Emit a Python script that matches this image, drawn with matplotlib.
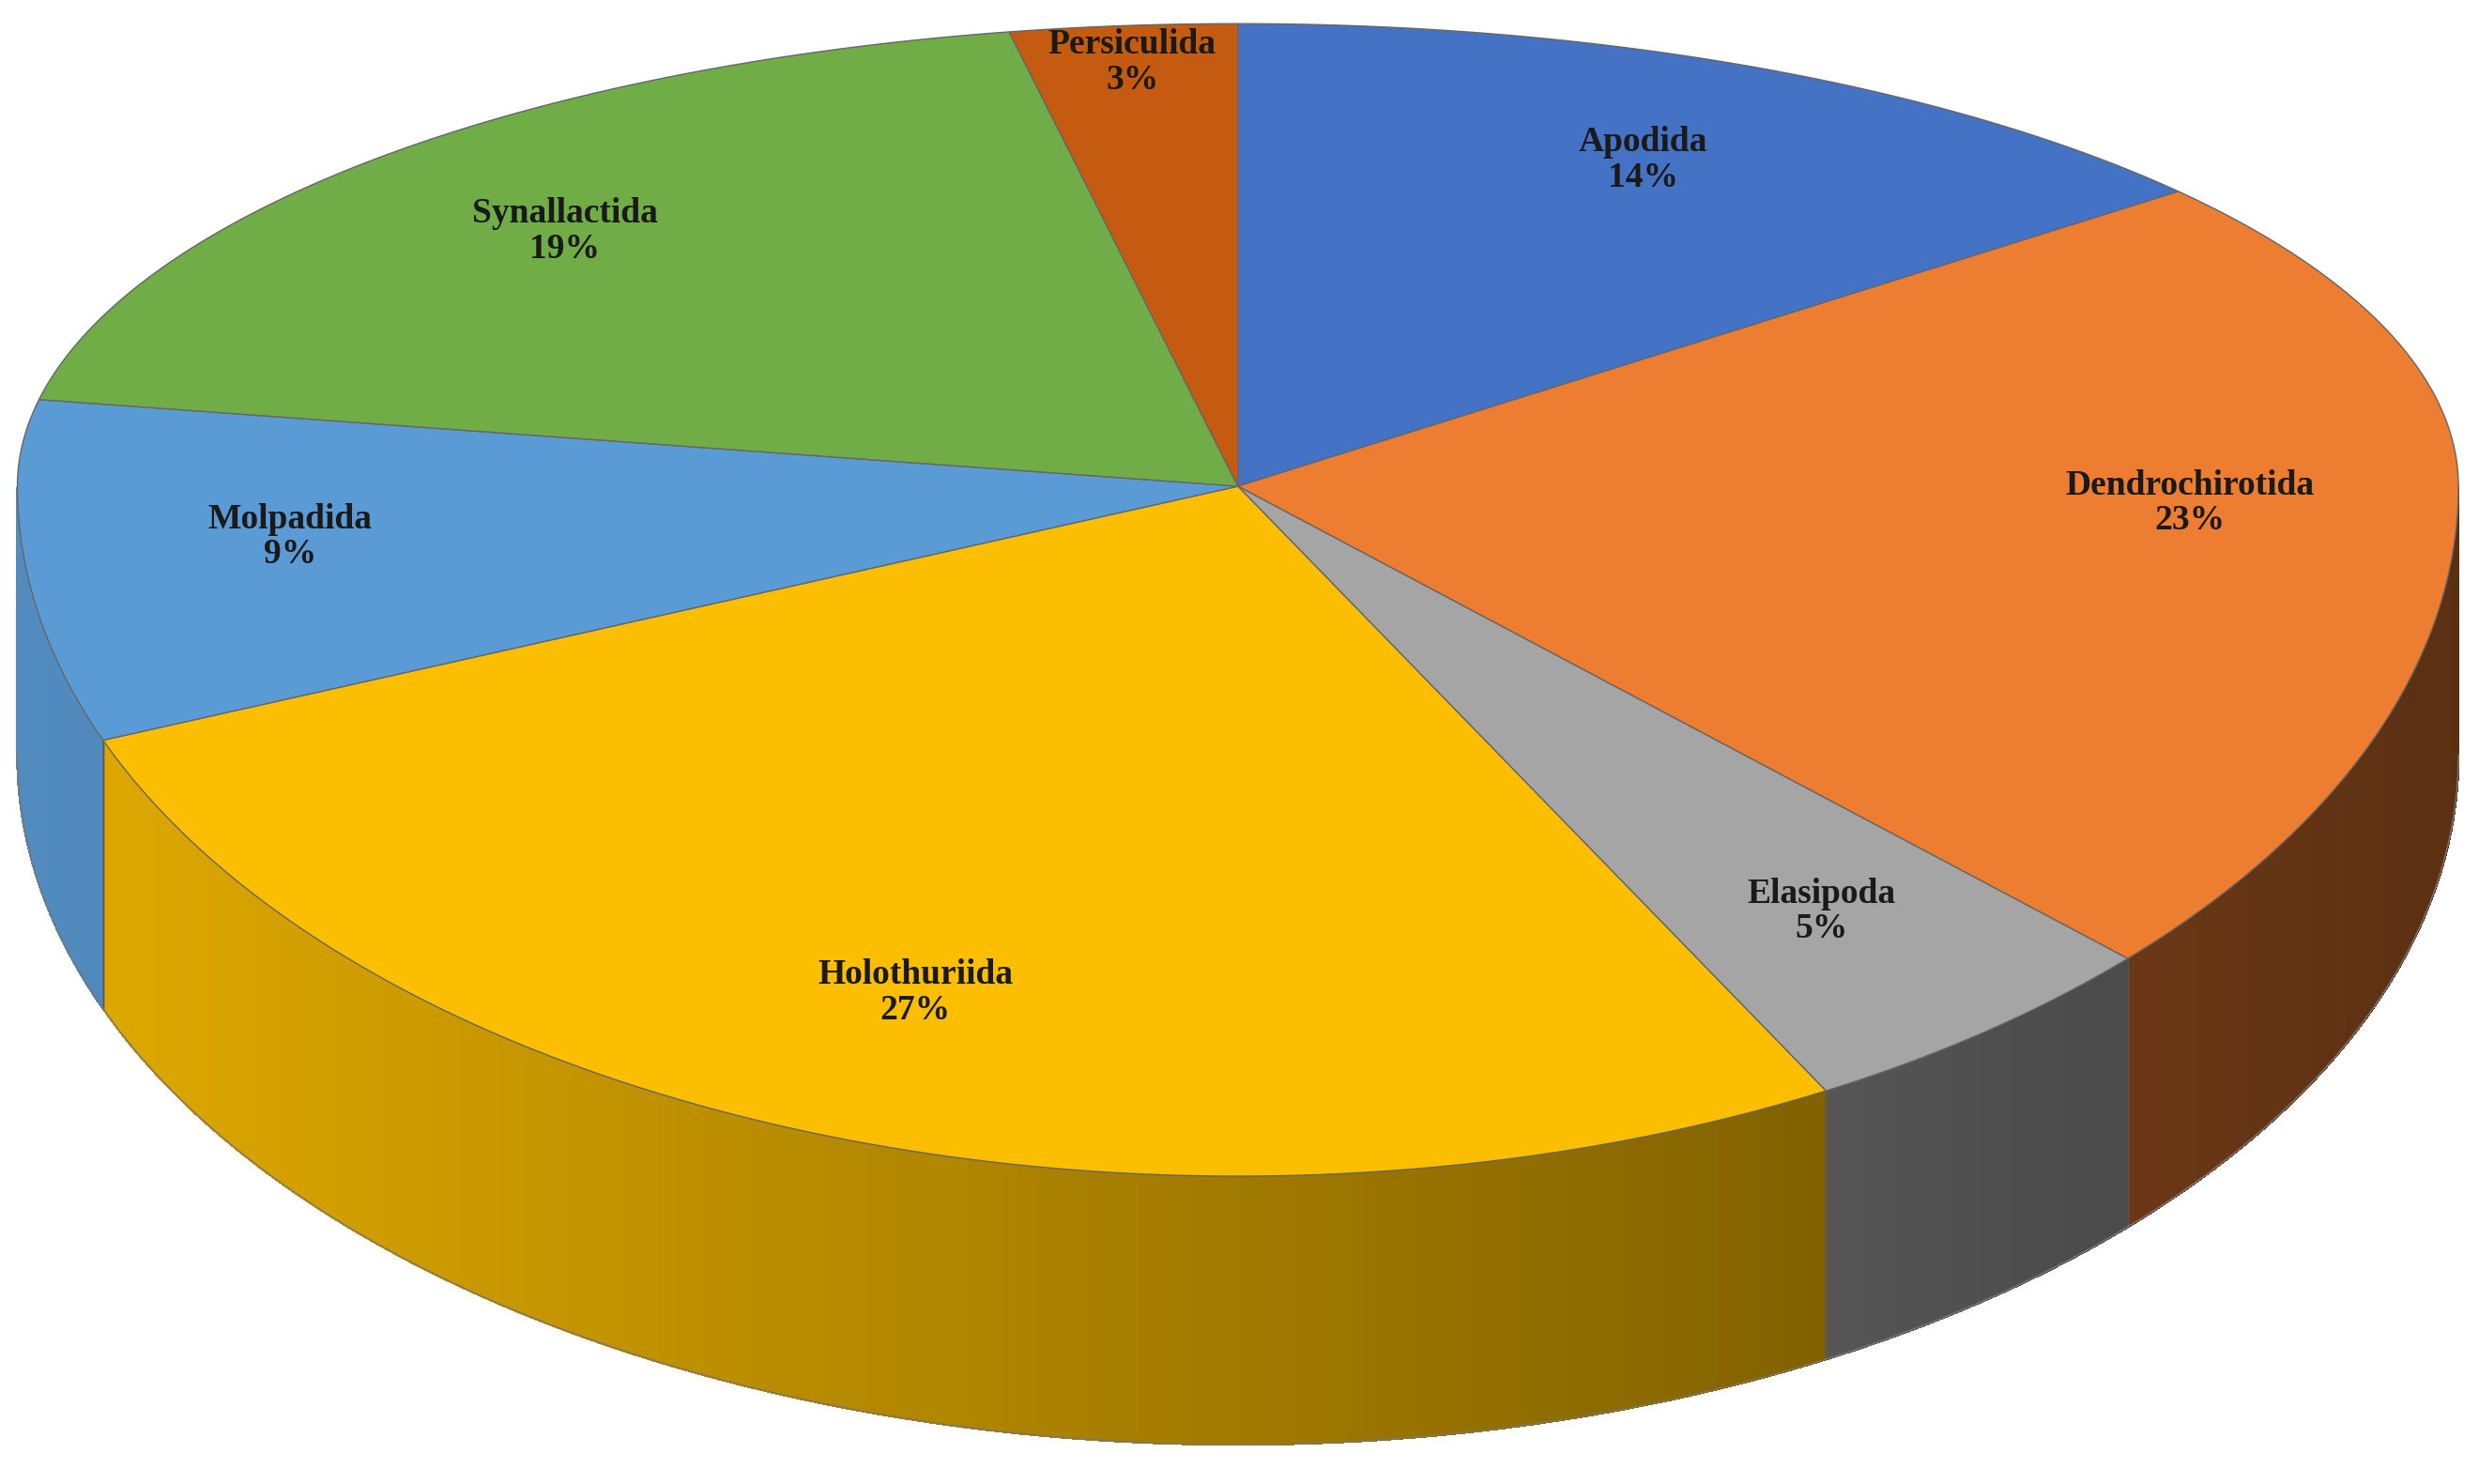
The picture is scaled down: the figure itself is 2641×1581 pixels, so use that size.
import numpy as np
import matplotlib.pyplot as plt
from matplotlib.colors import to_rgb

labels = ["Apodida", "Dendrochirotida", "Elasipoda", "Holothuriida",
          "Molpadida", "Synallactida", "Persiculida"]
values = [14, 23, 5, 27, 9, 19, 3]
colors = ["#4472C4", "#ED7D31", "#A5A5A5", "#FBBE00",
          "#5B9BD5", "#70AD47", "#C55A11"]

# geometry in reference pixel units (1568 x 940 canvas)
cx, cy = 783, 308
rx, ry_up, ry_down = 772, 293, 437
depth = 170


def pt(theta, r=1.0):
    t = np.radians(theta)
    s = np.sin(t)
    ry = ry_up if s >= 0 else ry_down
    return cx + r * rx * np.cos(t), cy - r * ry * s


fig = plt.figure(figsize=(26.41, 15.81), dpi=100)
ax = fig.add_axes([0, 0, 1, 1])
ax.set_xlim(0, 1568)
ax.set_ylim(940, 0)
ax.axis("off")

total = sum(values)
bounds = []
start = 90.0
for v in values:
    end = start - 360.0 * v / total
    bounds.append((start, end))
    start = end

# side walls (lower half of the rim), shaded darker to the right
for (a0, a1), c in zip(bounds, colors):
    base = np.array(to_rgb(c))
    angs = np.linspace(a0, a1, 120)
    for t0, t1 in zip(angs[:-1], angs[1:]):
        if np.sin(np.radians((t0 + t1) / 2)) >= 0:
            continue
        x0, y0 = pt(t0)
        x1, y1 = pt(t1)
        f = 0.9 - 0.52 * ((x0 + x1) / 2 - (cx - rx)) / (2 * rx)
        col = np.clip(base * f, 0, 1)
        ax.fill([x0, x1, x1, x0], [y0, y1, y1 + depth, y0 + depth],
                fc=col, ec=col, lw=1.2, antialiased=False, zorder=1)
    for t in (a0, a1):
        if np.sin(np.radians(t)) < 0:
            x, y = pt(t)
            ax.plot([x, x], [y, y + depth], color="#555555", lw=1, zorder=2)

angs = np.linspace(180, 360, 300)
xs, ys = zip(*[pt(t) for t in angs])
ax.plot(xs, np.array(ys) + depth, color="#777777", lw=1, zorder=2)

# top faces
for (a0, a1), c, lab, v in zip(bounds, colors, labels, values):
    angs = np.linspace(a0, a1, 200)
    xs, ys = zip(*[pt(t) for t in angs])
    ax.fill([cx, *xs], [cy, *ys], color=c, ec="#666666", lw=1, zorder=3)
    mid = (a0 + a1) / 2
    r = 0.92 if v <= 3 else 0.78
    lx, ly = pt(mid, r)
    ax.text(lx, ly, f"{lab}\n{v}%", ha="center", va="center",
            family="Liberation Serif", weight="bold", fontsize=27,
            color="#1a1a1a", linespacing=1.1, zorder=4)

fig.savefig("out.png", dpi=100)
